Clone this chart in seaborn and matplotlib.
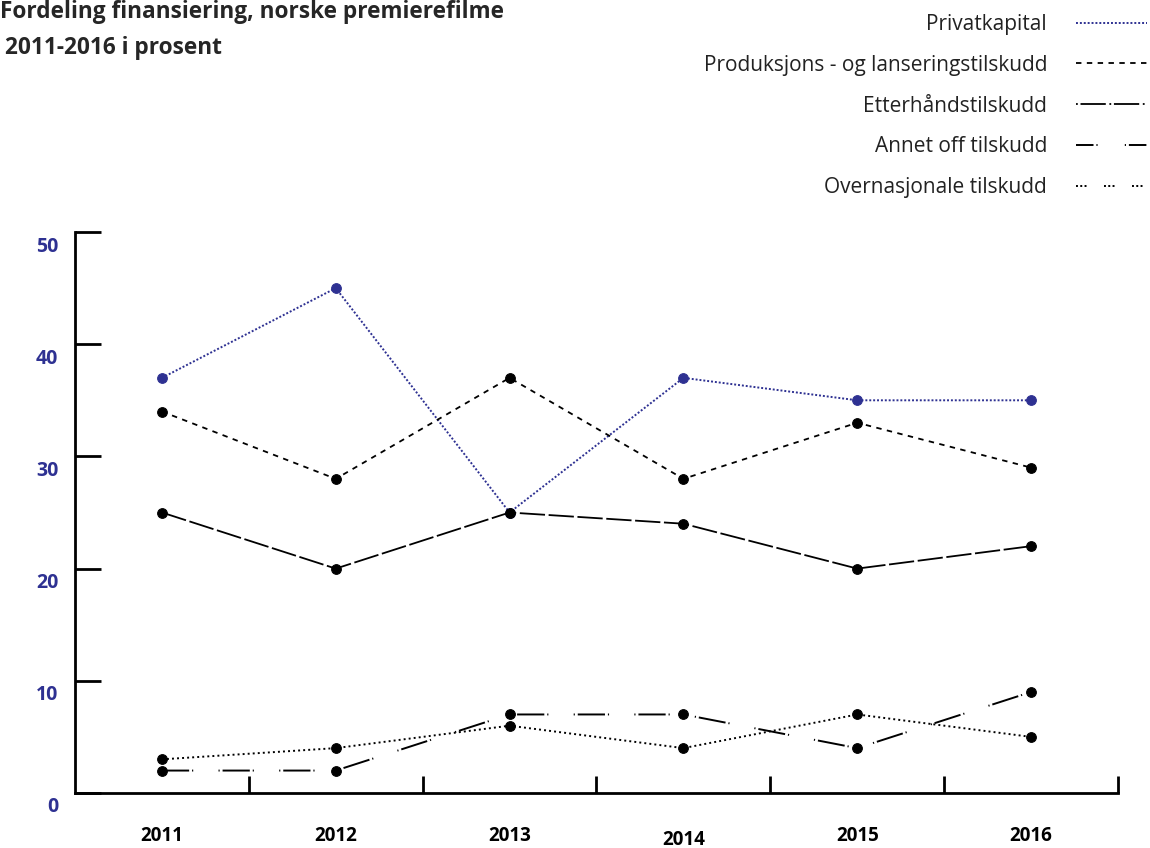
import matplotlib
matplotlib.use("Agg")
import matplotlib.pyplot as plt
from matplotlib.lines import Line2D
from matplotlib.transforms import ScaledTranslation
import seaborn as sns
import pandas as pd

years = ["2011", "2012", "2013", "2014", "2015", "2016"]
privatkapital = [37, 45, 25, 37, 35, 35]
produksjon = [34, 28, 37, 28, 33, 29]
etterhand = [25, 20, 25, 24, 20, 22]
annet_off = [2, 2, 7, 7, 4, 9]
overnasjonale = [3, 4, 6, 4, 7, 5]
yticks = [0, 10, 20, 30, 40, 50]

series_names = ["Privatkapital", "Produksjons - og lanseringstilskudd",
                "Etterhåndstilskudd", "Annet off tilskudd", "Overnasjonale tilskudd"]
series_values = [privatkapital, produksjon, etterhand, annet_off, overnasjonale]

BLUE = "#2e3192"
styles = [
    dict(color=BLUE, ls=(0, (1, 1)), lw=1.4),
    dict(color="black", ls=(0, (3, 3)), lw=1.3),
    dict(color="black", ls=(0, (14, 2)), lw=1.3),
    dict(color="black", ls=(0, (14, 1.5, 0.6, 13, 0.6, 1.5)), lw=1.4),
    dict(color="black", ls=(0, (1, 1.6)), lw=1.4),
]
legend_ls = [(0, (1, 1)), (0, (3, 3)), (0, (1, 1.5, 14, 2)), (0, (9, 1.5, 0.6, 14, 0.6, 1.5)),
             (0, (1, 1.2, 1, 1.2, 1, 9))]

sns.set_theme(style="white")
plt.rcParams["font.family"] = ["Open Sans", "DejaVu Sans"]

fig = plt.figure(figsize=(11.5, 8.48), dpi=100)
ax = fig.add_axes([75 / 1150, 1 - 793 / 848, (1118 - 75) / 1150, (793 - 232) / 848])

x = list(range(len(years)))
for name, vals, st in zip(series_names, series_values, styles):
    df = pd.DataFrame({"x": x, "y": vals})
    sns.lineplot(data=df, x="x", y="y", ax=ax, color=st["color"], linestyle=st["ls"],
                 linewidth=st["lw"], marker="o", markersize=7,
                 markerfacecolor=st["color"], markeredgecolor=st["color"],
                 legend=False)

ax.set_xlim(-0.5, 5.5)
ax.set_ylim(0, 50)
ax.set_xlabel("")
ax.set_ylabel("")
for s in ["top", "right"]:
    ax.spines[s].set_visible(False)
for s in ["left", "bottom"]:
    ax.spines[s].set_color("black")
    ax.spines[s].set_linewidth(2)

ax.set_yticks(yticks)
ax.set_yticklabels([str(v) for v in yticks], color=BLUE, fontweight="bold", fontsize=14)
ax.tick_params(axis="y", direction="in", length=19, width=2, color="black", pad=12, left=True)
for lab in ax.get_yticklabels():
    lab.set_transform(lab.get_transform() + ScaledTranslation(0, -12 / 100, fig.dpi_scale_trans))

ax.set_xticks(x)
ax.set_xticklabels(years, fontweight="bold", fontsize=13.5, color="black")
ax.tick_params(axis="x", which="major", length=0, pad=24)
ax.set_xticks([i + 0.5 for i in x], minor=True)
ax.tick_params(axis="x", which="minor", direction="in", length=12, width=2, color="black", bottom=True)
# 2014 label sits slightly lower in the reference
ax.get_xticklabels()[3].set_transform(
    ax.get_xticklabels()[3].get_transform() + ScaledTranslation(0, -4 / 100, fig.dpi_scale_trans))

handles = [Line2D([0], [0], color=st["color"], linestyle=lls, linewidth=st["lw"])
           for st, lls in zip(styles, legend_ls)]
fig.legend(handles, series_names, loc="upper right", bbox_to_anchor=(1147 / 1150, 1 - 14 / 848),
           markerfirst=False, frameon=False, fontsize=15, handlelength=3.4, handletextpad=1.4,
           labelspacing=0.95, borderpad=0, borderaxespad=0, labelcolor="#222222")

fig.text(0.5 / 1150, 1 - 12 / 848, "Fordeling finansiering, norske premierefilme",
         fontsize=16.3, fontweight="bold", va="center", ha="left")
fig.text(5 / 1150, 1 - 48 / 848, "2011-2016 i prosent",
         fontsize=16.3, fontweight="bold", va="center", ha="left")

fig.savefig("out.png", dpi=100)
